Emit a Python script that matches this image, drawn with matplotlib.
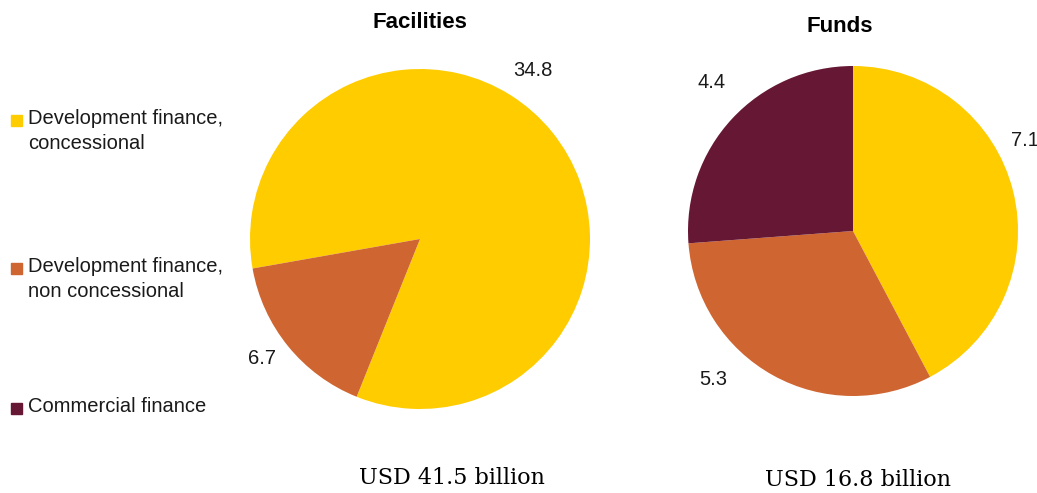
import matplotlib.pyplot as plt
from matplotlib.patches import Rectangle

# dados
categorias = ['Development finance,\nconcessional', 'Development finance,\nnon concessional', 'Commercial finance']
cores = ['#FFCC00', '#CF6531', '#661733']
facilities = [34.8, 6.7, 0.0]
funds = [7.1, 5.3, 4.4]
total_facilities = 'USD 41.5 billion'
total_funds = 'USD 16.8 billion'

plt.rcParams['font.family'] = ['Liberation Sans', 'DejaVu Sans']

fig = plt.figure(figsize=(10.37, 4.93), dpi=100)

def eixo(px_left, px_top, px_size):
    W, H = 1037, 493
    return fig.add_axes([px_left / W, (H - px_top - px_size) / H, px_size / W, px_size / H])

# Facilities
ax1 = eixo(250, 69, 340)
ax1.pie([v for v in facilities if v > 0], colors=cores[:2], startangle=190, counterclock=False,
        radius=1, wedgeprops=dict(linewidth=0))
ax1.set_xlim(-1, 1); ax1.set_ylim(-1, 1); ax1.set_aspect('equal'); ax1.axis('off')
pos1 = [(0.665, 0.994), (-0.93, -0.70)]
for (x, y), v in zip(pos1, facilities[:2]):
    ax1.text(x, y, f'{v:.1f}', ha='center', va='center', fontsize=14.5, color='#1a1a1a')

# Funds
ax2 = eixo(688, 66, 330)
ax2.pie(funds, colors=cores, startangle=90, counterclock=False, radius=1,
        wedgeprops=dict(linewidth=0))
ax2.set_xlim(-1, 1); ax2.set_ylim(-1, 1); ax2.set_aspect('equal'); ax2.axis('off')
pos2 = [(1.04, 0.55), (-0.85, -0.90), (-0.855, 0.90)]
for (x, y), v in zip(pos2, funds):
    ax2.text(x, y, f'{v:.1f}', ha='center', va='center', fontsize=14.5, color='#1a1a1a')

# titulos
fig.text(420 / 1037, 1 - 22 / 493, 'Facilities', ha='center', va='center', fontsize=16, fontweight='bold')
fig.text(840 / 1037, 1 - 27 / 493, 'Funds', ha='center', va='center', fontsize=16, fontweight='bold')
fig.text(452 / 1037, 1 - 478 / 493, total_facilities, ha='center', va='center', fontsize=16,
         family=['DejaVu Serif'])
fig.text(858 / 1037, 1 - 480 / 493, total_funds, ha='center', va='center', fontsize=16,
         family=['DejaVu Serif'])

# legenda manual
leg_y = [120, 268, 408]
for y, cat, cor in zip(leg_y, categorias, cores):
    fig.patches.append(Rectangle((11 / 1037, 1 - (y + 6) / 493), 11 / 1037, 11 / 493,
                                 transform=fig.transFigure, color=cor))
    fig.text(28 / 1037, 1 - (y - 11) / 493, cat, ha='left', va='top', fontsize=14.5,
             color='#1a1a1a', linespacing=1.4)

fig.savefig('out.png', dpi=100)
